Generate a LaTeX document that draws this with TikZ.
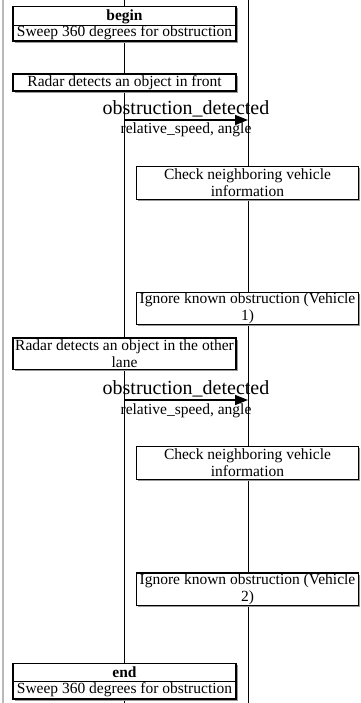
\documentclass[tikz,border=0pt]{standalone}
\usepackage{fontspec}
\setmainfont{Liberation Serif}
\usetikzlibrary{arrows.meta,shadows}
\begin{document}
\begin{tikzpicture}[x=1pt,y=-1pt,
 box/.style={draw=black, line width=1.5pt, fill=white, inner sep=0pt, outer sep=0pt, anchor=north west,
   align=center, font=\fontsize{15.5}{17.3}\selectfont,
   drop shadow={shadow xshift=1.8pt, shadow yshift=-1.8pt, fill=black!40, opacity=1}},
 txt/.style={inner sep=0pt, font=\fontsize{15.5}{17.3}\selectfont, align=center},
 big/.style={inner sep=0pt, font=\fontsize{20}{22}\selectfont},
 life/.style={draw=black, line width=0.9pt},
 divline/.style={draw=black, line width=0.8pt},
 msg/.style={draw=black, line width=1.5pt, -{Triangle[length=13pt,width=10pt]}},
]
\useasboundingbox (0,0) rectangle (360,703);
% frame line and lifelines
\coordinate (gT) at (3,0); \coordinate (gB) at (3,703);
\draw[gray!55, line width=1.5pt] (gT) -- (gB);
\coordinate (l1T) at (124,0); \coordinate (l1B) at (124,703);
\coordinate (l2T) at (248,0); \coordinate (l2B) at (248,703);
\draw[life] (l1T) -- (l1B);
\draw[life] (l2T) -- (l2B);

% begin
\node[box, minimum width=223pt, minimum height=34.5pt] (begin) at (13,6.5) {};
\coordinate (bdivL) at (13,25); \coordinate (bdivR) at (236,25);
\draw[divline] (bdivL) -- (bdivR);
\node[txt, anchor=base] (beginT) at (124.5,21) {\bfseries begin};
\node[txt, anchor=base] (beginS) at (124.5,36.5) {Sweep 360 degrees for obstruction};

% block 1
\node[box, minimum width=223pt, minimum height=17pt] (radar1) at (13,74) {Radar detects an object in front};
\node[big, anchor=base] (ob1) at (186,114.3) {obstruction\_detected};
\coordinate (m1s) at (124,120); \coordinate (m1e) at (248,120);
\draw[msg] (m1s) -- (m1e);
\node[txt, anchor=base] (rs1) at (186,134) {relative\_speed, angle};
\node[box, minimum width=222pt, minimum height=33pt] (check1) at (136.5,166.5) {Check neighboring vehicle\\information};
\node[box, minimum width=222pt, minimum height=32pt] (ignore1) at (136.5,292.5) {Ignore known obstruction (Vehicle\\1)};

% block 2
\node[box, minimum width=223pt, minimum height=31.5pt] (radar2) at (13,338) {Radar detects an object in the other\\lane};
\node[big, anchor=base] (ob2) at (186,394.3) {obstruction\_detected};
\coordinate (m2s) at (124,400); \coordinate (m2e) at (248,400);
\draw[msg] (m2s) -- (m2e);
\node[txt, anchor=base] (rs2) at (186,414) {relative\_speed, angle};
\node[box, minimum width=222pt, minimum height=33pt] (check2) at (136.5,446.5) {Check neighboring vehicle\\information};
\node[box, minimum width=222pt, minimum height=32.5pt] (ignore2) at (136.5,573) {Ignore known obstruction (Vehicle\\2)};

% end
\node[box, minimum width=223pt, minimum height=35.5pt] (endbox) at (13,663.5) {};
\coordinate (edivL) at (13,681); \coordinate (edivR) at (236,681);
\draw[divline] (edivL) -- (edivR);
\node[txt, anchor=base] (endT) at (124.5,677.5) {\bfseries end};
\node[txt, anchor=base] (endS) at (124.5,693.5) {Sweep 360 degrees for obstruction};
\end{tikzpicture}
\end{document}
